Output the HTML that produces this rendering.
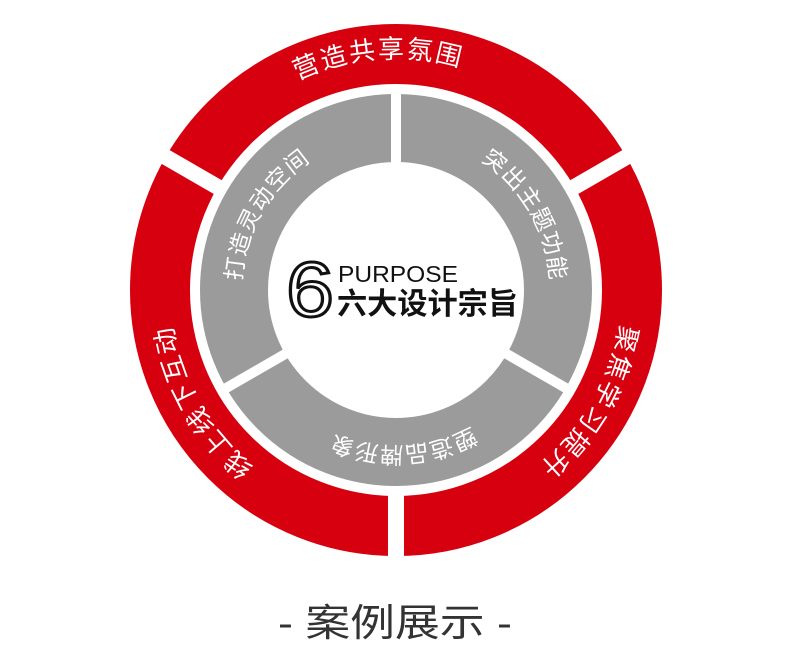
<!DOCTYPE html>
<html><head><meta charset="utf-8"><style>
html,body{margin:0;padding:0;background:#fff;}
svg{display:block;}
</style></head><body>
<svg width="790" height="672" viewBox="0 0 790 672" xmlns="http://www.w3.org/2000/svg">
<defs>
<path id="p1" d="M168,286 A228,228 0 0 1 624,286"/>
<path id="p2" d="M513.4,94.6 A228,228 0 0 1 285.5,489.4"/>
<path id="p3" d="M506.5,489.4 A228,228 0 0 1 278.6,94.6"/>
<path id="g1" d="M316.7,422 A154,154 0 0 1 470.7,155.3"/>
<path id="g2" d="M321.3,155.3 A154,154 0 0 1 475.3,422"/>
<path id="g3" d="M550,292.7 A154,154 0 0 1 242,292.7"/>
</defs>
<circle cx="396" cy="290" r="236" fill="none" stroke="#d7000f" stroke-width="60"/>
<circle cx="396" cy="290" r="162" fill="none" stroke="#9b9b9b" stroke-width="68"/>
<g stroke="#fff" stroke-width="16">
<line x1="629.8" y1="155" x2="569.2" y2="190"/>
<line x1="162.2" y1="155" x2="222.8" y2="190"/>
<line x1="396" y1="560" x2="396" y2="490"/>
</g>
<g stroke="#fff" stroke-width="10">
<line x1="396" y1="88" x2="396" y2="170"/>
<line x1="221.9" y1="390.5" x2="292.1" y2="350"/>
<line x1="570.1" y1="390.5" x2="499.9" y2="350"/>
</g>
<g font-family="'Liberation Sans','Noto Sans CJK SC',sans-serif" fill="#fff" text-anchor="middle">
<text font-size="26" letter-spacing="2"><textPath href="#p1" startOffset="47.5%">营造共享氛围</textPath></text>
<text font-size="26" letter-spacing="2"><textPath href="#p2" startOffset="50%">聚焦学习提升</textPath></text>
<text font-size="26" letter-spacing="2"><textPath href="#p3" startOffset="50%">线上线下互动</textPath></text>
<text font-size="23" letter-spacing="1"><textPath href="#g1" startOffset="50%">打造灵动空间</textPath></text>
<text font-size="23" letter-spacing="1"><textPath href="#g2" startOffset="50%">突出主题功能</textPath></text>
<text font-size="23" letter-spacing="1"><textPath href="#g3" startOffset="48.5%">塑造品牌形象</textPath></text>
</g>
<text x="286" y="316" font-family="'Liberation Sans',sans-serif" font-size="78" fill="#fff" stroke="#111" stroke-width="3" textLength="48" lengthAdjust="spacingAndGlyphs">6</text>
<text x="338" y="282" font-family="'Liberation Sans',sans-serif" font-size="23" fill="#111" textLength="120" lengthAdjust="spacingAndGlyphs">PURPOSE</text>
<text x="337" y="314" font-family="'Liberation Sans','Noto Sans CJK SC',sans-serif" font-size="30" font-weight="bold" fill="#111" textLength="181" lengthAdjust="spacingAndGlyphs">六大设计宗旨</text>
<text x="395" y="636" text-anchor="middle" font-family="'Liberation Sans','Noto Sans CJK SC',sans-serif" font-size="38" fill="#333" textLength="234" lengthAdjust="spacingAndGlyphs">- 案例展示 -</text>
</svg>
</body></html>
